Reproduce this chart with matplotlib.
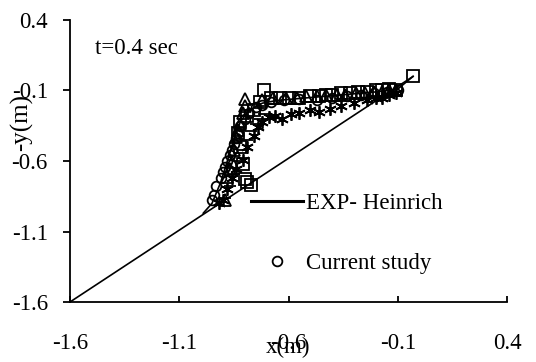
import matplotlib
matplotlib.use("Agg")
import matplotlib.pyplot as plt

plt.rcParams['font.family'] = ['Liberation Serif', 'DejaVu Serif']

# wall line (y = x)
wall_x = [-1.6, -0.03]
wall_y = [-1.6, 0.0]

# EXP - Heinrich free surface
exp_x = [-0.99, -0.95, -0.91, -0.88, -0.85, -0.82, -0.78, -0.72, -0.65, -0.50, -0.35, -0.20, -0.10, -0.03]
exp_y = [-0.97, -0.90, -0.75, -0.60, -0.45, -0.32, -0.24, -0.19, -0.17, -0.15, -0.13, -0.11, -0.09, 0.0]

# current study (circles)
cs_x = [-0.95, -0.94, -0.93, -0.91, -0.90, -0.89, -0.88, -0.87, -0.86, -0.85, -0.84, -0.83,
        -0.82, -0.80, -0.78, -0.75, -0.72, -0.68, -0.62, -0.55, -0.47, -0.40, -0.33, -0.27,
        -0.21, -0.15, -0.10]
cs_y = [-0.88, -0.84, -0.78, -0.72, -0.68, -0.64, -0.60, -0.56, -0.52, -0.48, -0.44, -0.40,
        -0.35, -0.30, -0.26, -0.22, -0.20, -0.18, -0.17, -0.16, -0.17, -0.15, -0.14, -0.13,
        -0.12, -0.11, -0.10]

# other runs
sq_x = [-0.80, -0.79, -0.77, -0.81, -0.82, -0.83, -0.82, -0.79, -0.76, -0.73, -0.71, -0.68,
        -0.64, -0.60, -0.55, -0.50, -0.46, -0.43, -0.40, -0.36, -0.32, -0.28, -0.24, -0.20,
        -0.17, -0.14, -0.11, -0.03]
sq_y = [-0.73, -0.75, -0.77, -0.62, -0.50, -0.40, -0.32, -0.28, -0.24, -0.18, -0.10, -0.15,
        -0.15, -0.15, -0.15, -0.14, -0.14, -0.13, -0.13, -0.12, -0.12, -0.11, -0.11, -0.10,
        -0.10, -0.09, -0.10, 0.0]

tri_x = [-0.89, -0.88, -0.87, -0.86, -0.85, -0.84, -0.83, -0.82, -0.81, -0.80, -0.80, -0.72,
         -0.67, -0.61, -0.56, -0.52, -0.47, -0.43, -0.38, -0.34, -0.29, -0.25, -0.21, -0.17,
         -0.14, -0.11]
tri_y = [-0.88, -0.71, -0.66, -0.61, -0.52, -0.43, -0.38, -0.34, -0.26, -0.21, -0.16, -0.17,
         -0.15, -0.15, -0.15, -0.14, -0.14, -0.13, -0.13, -0.13, -0.12, -0.12, -0.11, -0.11,
         -0.10, -0.10]

ast_x = [-0.92, -0.90, -0.88, -0.86, -0.84, -0.81, -0.79, -0.76, -0.74, -0.72, -0.69, -0.66,
         -0.63, -0.59, -0.55, -0.50, -0.46, -0.41, -0.36, -0.30, -0.24, -0.20, -0.17, -0.14,
         -0.11]
ast_y = [-0.90, -0.88, -0.80, -0.72, -0.66, -0.59, -0.50, -0.42, -0.36, -0.32, -0.29, -0.28,
         -0.30, -0.27, -0.26, -0.24, -0.25, -0.23, -0.21, -0.19, -0.17, -0.15, -0.15, -0.13,
         -0.12]

dash_x = [-0.89, -0.87, -0.85, -0.83, -0.81, -0.79, -0.77, -0.75, -0.73, -0.71]
dash_y = [-0.86, -0.78, -0.69, -0.60, -0.52, -0.45, -0.39, -0.34, -0.30, -0.27]

fig, ax = plt.subplots(figsize=(5.36, 3.62), dpi=100)
fig.subplots_adjust(left=70/536, right=507/536, bottom=1-302/362, top=1-20/362)

ax.plot(wall_x, wall_y, color='black', lw=1.2)
mk = dict(ls='none', mfc='none', mec='black', mew=1.3)
ax.plot(sq_x, sq_y, marker='s', ms=8, **mk)
ax.plot(tri_x, tri_y, marker='^', ms=9, **mk)
ax.plot(ast_x, ast_y, marker=(6, 2, 0), ms=9, **mk)
ax.plot(dash_x, dash_y, marker='_', ms=9, **mk)
l1, = ax.plot(exp_x, exp_y, color='black', lw=1.2)
l2, = ax.plot(cs_x, cs_y, marker='o', ms=7, **mk)

# legend handle for the exp line is drawn thicker
h1 = plt.Line2D([], [], color='black', lw=2.2)
ax.legend([h1, l2], ['EXP- Heinrich', 'Current study'], loc='upper left',
          bbox_to_anchor=(0.366, 0.46), frameon=False, fontsize=16.5,
          handlelength=2.3, handletextpad=0.14, labelspacing=1.72)

ax.text(0.057, 0.90, 't=0.4 sec', transform=ax.transAxes, fontsize=16.5, va='center')

ax.set_xlim(-1.6, 0.4)
ax.set_ylim(-1.6, 0.4)
ax.set_xticks([-1.6, -1.1, -0.6, -0.1, 0.4])
ax.set_yticks([-1.6, -1.1, -0.6, -0.1, 0.4])
ax.set_xticklabels(['-1.6', '-1.1', '-0.6', '-0.1', '0.4'])
ax.set_yticklabels(['-1.6', '-1.1', '-0.6', '-0.1', '0.4'])
ax.tick_params(axis='x', direction='in', length=4.5, width=1.3, pad=22, labelsize=16.5)
ax.tick_params(axis='y', direction='out', length=5, width=1.3, pad=11, labelsize=16.5)
for s in ['top', 'right']:
    ax.spines[s].set_visible(False)
for s in ['left', 'bottom']:
    ax.spines[s].set_linewidth(1.3)

ax.set_xlabel('x(m)', fontsize=16.5)
ax.set_ylabel('-y(m)', fontsize=18)
ax.xaxis.set_label_coords(0.5, -0.125)
ax.yaxis.set_label_coords(-0.085, 0.635)

fig.savefig('out.png', dpi=100)
